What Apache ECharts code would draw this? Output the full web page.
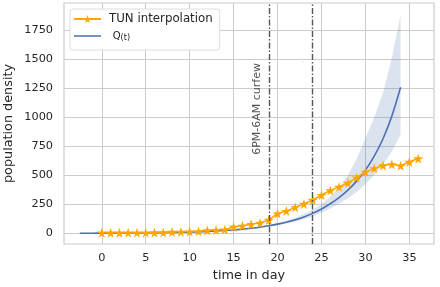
<!DOCTYPE html>
<html>
<head>
<meta charset="utf-8">
<script src="https://cdn.jsdelivr.net/npm/echarts@6/dist/echarts.min.js"></script>
<style>html,body{margin:0;padding:0;background:#fff}#c{width:440px;height:287px}</style>
</head>
<body>
<div id="c"></div>
<script>
// ---- data ----
const tunDays = [0,1,2,3,4,5,6,7,8,9,10,11,12,13,14,15,16,17,18,19,20,21,22,23,24,25,26,27,28,29,30,31,32,33,34,35,36];
const tunValues = [5,5,5,6,6,6,7,7,12,13,15,17,25,28,32,55,65,78,90,115,170,192,224,253,287,330,370,400,435,480,530,560,585,595,582,615,645];

const qDays = [-2.5,-2,-1,0,1,2,3,4,5,6,7,8,9,10,11,12,13,14,15,16,17,18,19,20,21,22,23,24,25,26,27,28,29,30,31,32,33,34];
const qValues = [0.9,1.0,1.2,1.5,1.8,2.2,2.7,3.3,4.0,4.9,6.0,7.3,8.9,10.9,13.3,16,20,24,29,36,44,53,65,79,96,116,141,172,210,255,308,372,450,545,665,815,1010,1259];
const qUpper = [0.9,1.0,1.2,1.5,1.8,2.2,2.7,3.3,4.0,4.9,6.0,7.3,8.9,11.2,13.8,17,21,26,32,40,49,59,73,89,110,135,166,203,252,315,395,500,640,820,1000,1210,1510,1882];
const qLower = [0.9,1.0,1.2,1.5,1.8,2.2,2.7,3.3,4.0,4.9,6.0,7.3,8.9,10.6,12.8,15,19,22,27,33,40,48,58,70,85,102,122,145,177,215,255,302,357,422,502,592,707,850];

const curfewDays = [19, 24];
const curfewLabel = '6PM-6AM curfew';
const xTicks = [0,5,10,15,20,25,30,35];
const yTicks = [0,250,500,750,1000,1250,1500,1750];

// ---- chart ----
const TXT = '#262626';
const FONT = 'DejaVu Sans';
const star = 'path://M50,0 L61,35 L98,35 L68,57 L79,91 L50,70 L21,91 L32,57 L2,35 L39,35 Z';
const lineIcon = 'path://M0,0 L60,0 L60,3.4 L0,3.4 Z';

const chart = echarts.init(document.getElementById('c'), null, {renderer: 'canvas'});
chart.setOption({
  animation: false,
  backgroundColor: '#ffffff',
  textStyle: {fontFamily: FONT, color: TXT},
  grid: {left: 64, right: 6, top: 3, bottom: 43, containLabel: false, outerBoundsMode: 'none',
         show: true, borderColor: '#cccccc', borderWidth: 1.2, backgroundColor: '#ffffff'},
  legend: {
    orient: 'vertical', left: 70, top: 9,
    data: [{name: 'TUN interpolation'}, {name: 'Q(t)', icon: lineIcon, itemStyle: {color: '#4c72b0'}}],
    backgroundColor: '#ffffff', borderColor: '#dddddd', borderWidth: 1, borderRadius: 3,
    padding: [4, 7, 8, 3], itemWidth: 27, itemHeight: 10, itemGap: 5, symbolKeepAspect: true,
    textStyle: {fontFamily: FONT, fontSize: 11.8, color: TXT, padding: [0,0,0,3],
      rich: {q: {fontFamily: FONT, fontSize: 10, color: TXT}, s: {fontFamily: FONT, fontSize: 8, color: TXT, padding: [3,0,0,0]}}},
    formatter: function (n) { return n === 'Q(t)' ? ' {q|Q}{s|(t)}' : n; }
  },
  xAxis: {
    type: 'value', min: -4.3, max: 37.8,
    name: 'time in day', nameLocation: 'middle', nameGap: 25, nameMoveOverlap: false,
    nameTextStyle: {fontFamily: FONT, fontSize: 12.8, color: TXT},
    axisLine: {show: false}, axisTick: {show: false, customValues: xTicks},
    axisLabel: {customValues: xTicks, fontFamily: FONT, fontSize: 11.3, color: TXT, margin: 9, formatter: v => String(v)},
    splitLine: {show: true, lineStyle: {color: '#cccccc', width: 1}}
  },
  yAxis: {
    type: 'value', min: -92, max: 1985,
    name: 'population density', nameLocation: 'middle', nameGap: 49, nameMoveOverlap: false,
    nameTextStyle: {fontFamily: FONT, fontSize: 12.8, color: TXT},
    axisLine: {show: false}, axisTick: {show: false, customValues: yTicks},
    axisLabel: {customValues: yTicks, fontFamily: FONT, fontSize: 11.3, color: TXT, margin: 11, formatter: v => String(v)},
    splitLine: {show: true, lineStyle: {color: '#cccccc', width: 1}}
  },
  series: [
    {
      name: 'band', type: 'custom', silent: true, z: 1, clip: true,
      data: qDays.map((d, i) => [d, qLower[i], qUpper[i]]),
      encode: {x: 0, y: [1, 2]},
      renderItem: function (params, api) {
        if (params.dataIndex !== 0) return null;
        const pts = [];
        for (let i = 0; i < qDays.length; i++) pts.push(api.coord([qDays[i], qUpper[i]]));
        for (let i = qDays.length - 1; i >= 0; i--) pts.push(api.coord([qDays[i], qLower[i]]));
        return {type: 'polygon', shape: {points: pts}, style: {fill: 'rgba(76,114,176,0.2)', stroke: null}};
      }
    },
    {
      name: 'Q(t)', type: 'line', symbol: 'none', smooth: 0.3,
      data: qDays.map((d, i) => [d, qValues[i]]),
      lineStyle: {color: '#4c72b0', width: 1.6}, itemStyle: {color: '#4c72b0'}, z: 3
    },
    {
      name: 'TUN interpolation', type: 'line', symbol: star, symbolSize: 10,
      data: tunDays.map((d, i) => [d, tunValues[i]]),
      lineStyle: {color: '#ffa500', width: 1.5}, itemStyle: {color: '#ffa500'}, z: 4,
      markLine: {
        silent: true, symbol: 'none', label: {show: false},
        lineStyle: {color: '#555555', width: 1.4, type: [6, 2, 1.5, 2]},
        data: curfewDays.map(d => ({xAxis: d}))
      }
    },
    {
      name: 'notes', type: 'scatter', silent: true, z: 5,
      symbol: 'circle', symbolSize: 1, itemStyle: {color: 'rgba(0,0,0,0)'},
      data: [
        {value: [17.67, 1072], label: {show: true, formatter: curfewLabel, rotate: 90, fontFamily: FONT, fontSize: 11, color: TXT, position: 'inside'}},
        {value: [22.87, 1460], label: {show: true, formatter: "'", fontFamily: FONT, fontSize: 7, color: '#bbbbbb', position: 'inside'}}
      ]
    }
  ]
});
</script>
</body>
</html>
